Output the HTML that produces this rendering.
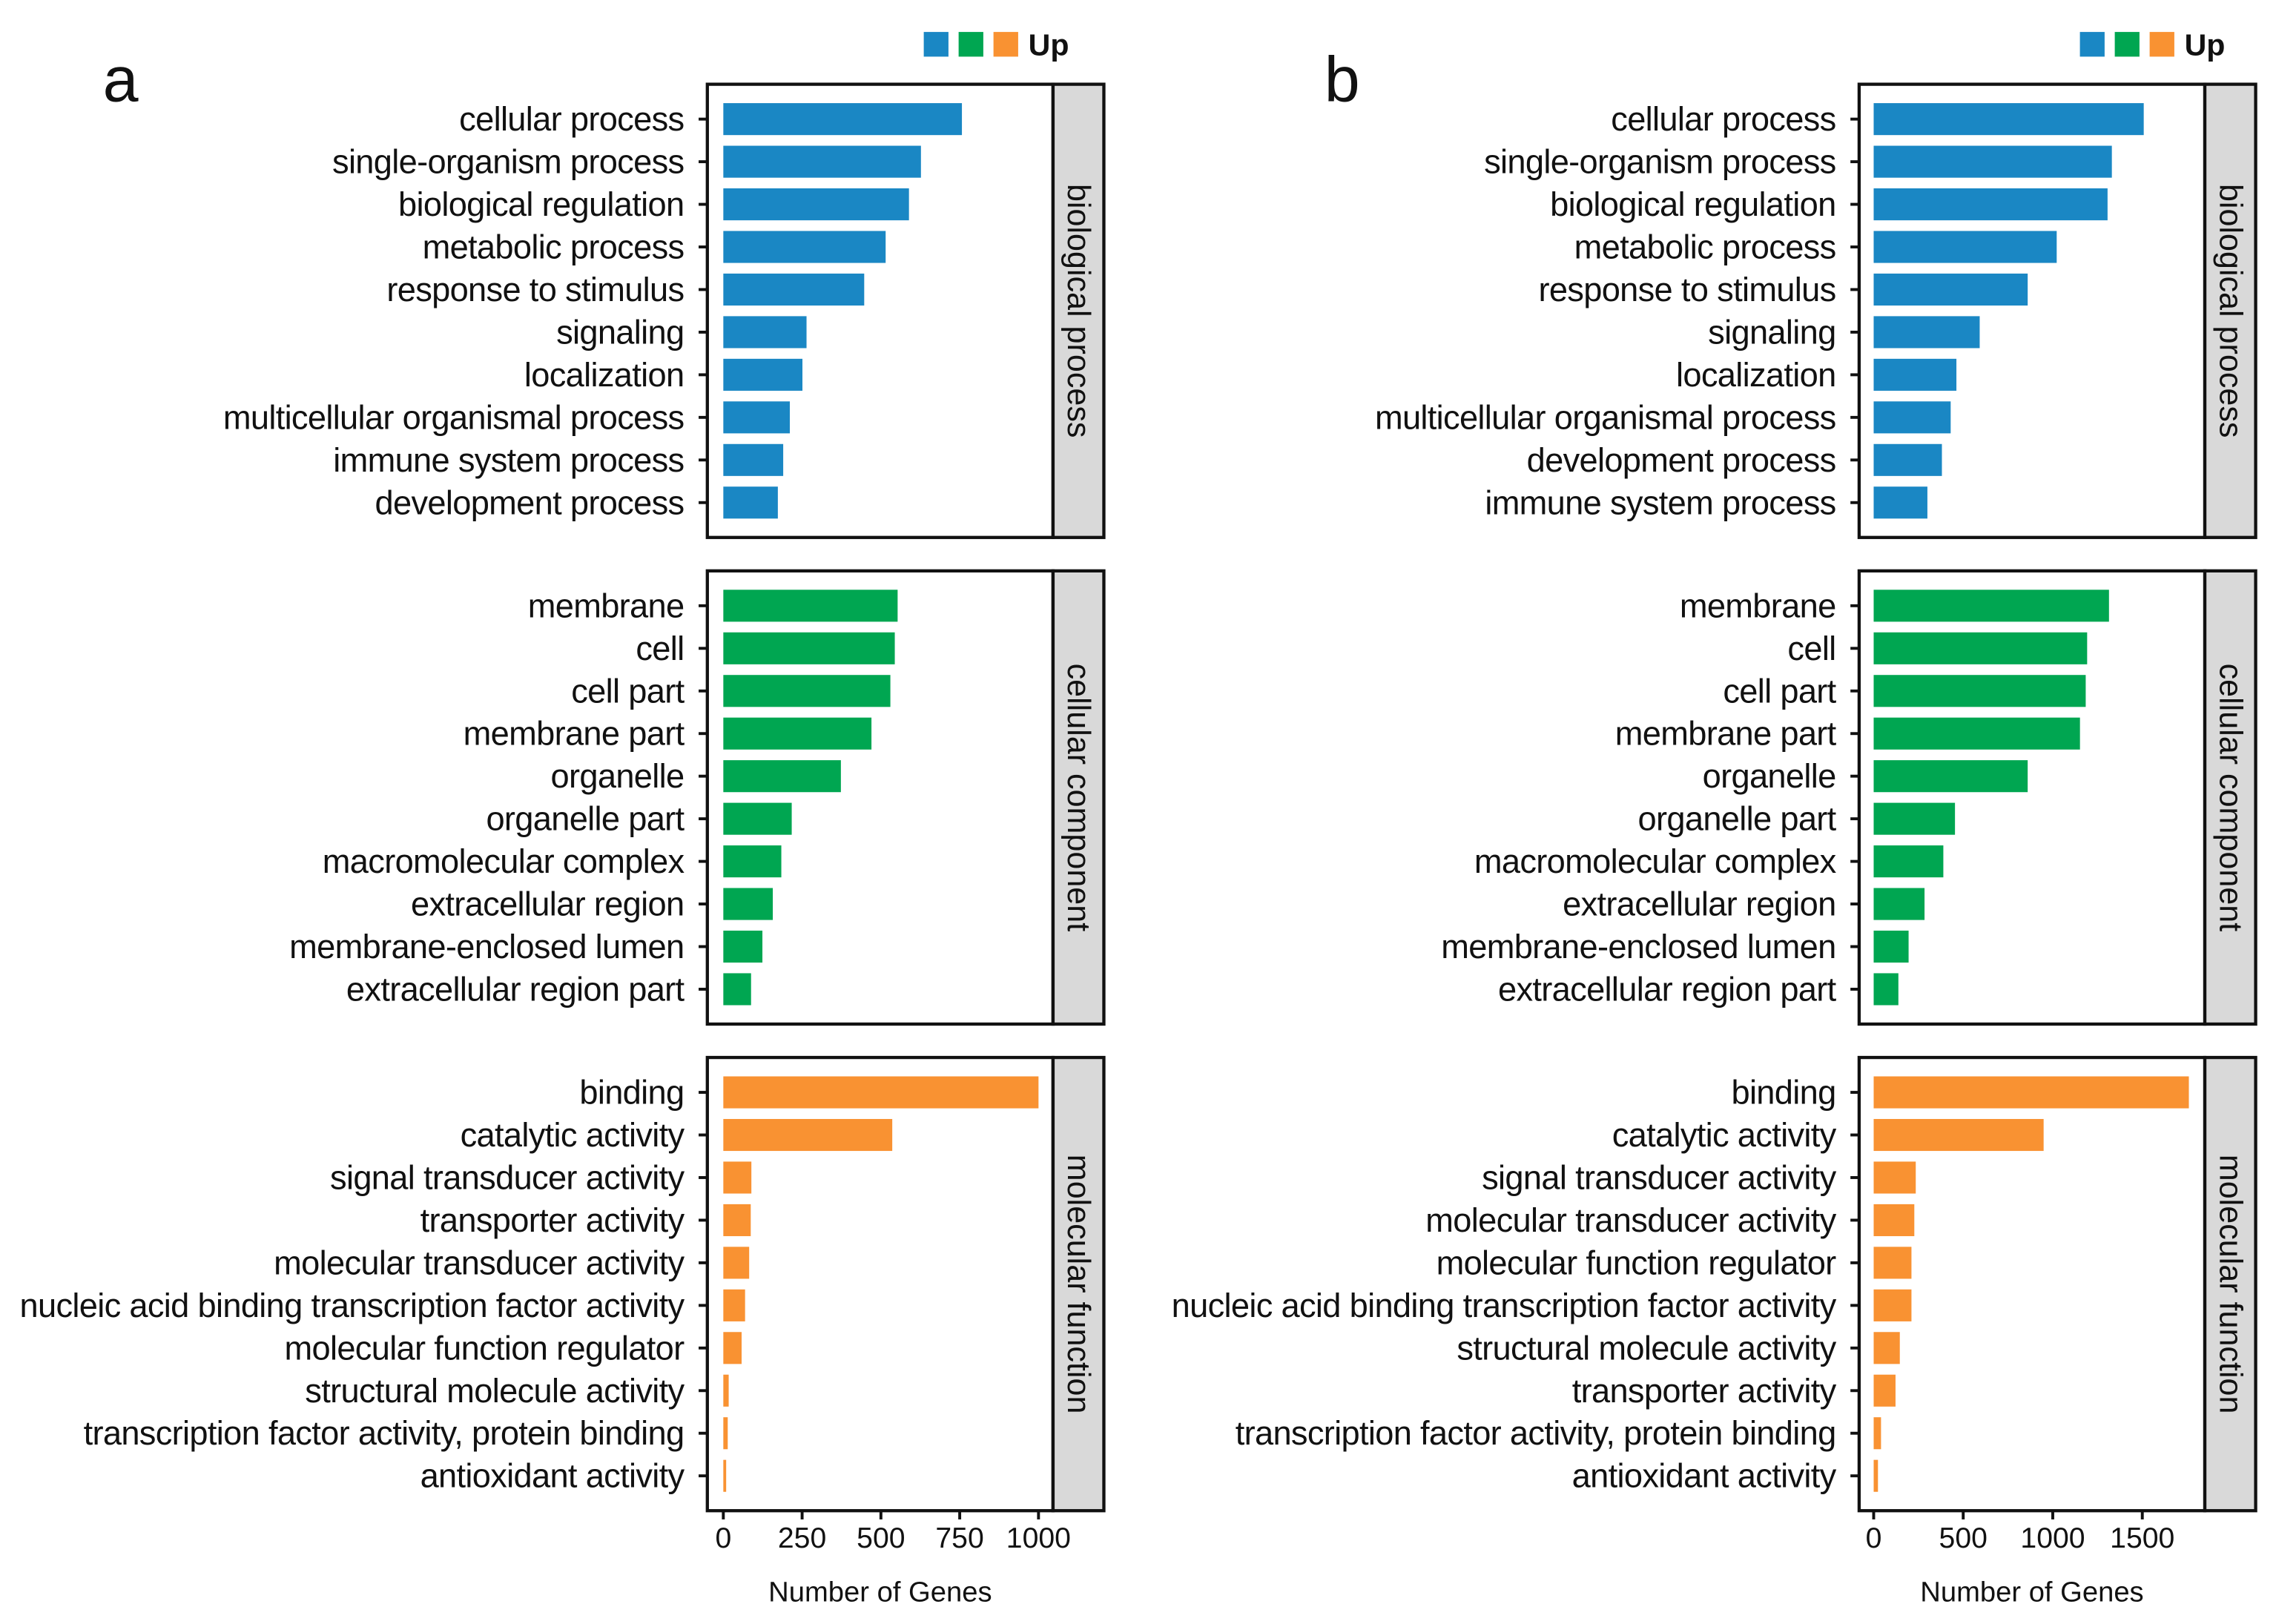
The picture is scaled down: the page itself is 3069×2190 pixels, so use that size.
<!DOCTYPE html>
<html><head><meta charset="utf-8">
<style>
html,body{margin:0;padding:0;background:#fff;}
svg{display:block;}
text{font-family:"Liberation Sans",Arial,sans-serif;fill:#111;}
</style></head>
<body>
<svg id="chart" width="3069" height="2190" viewBox="0 0 1567 1118" preserveAspectRatio="none" xmlns="http://www.w3.org/2000/svg"></svg>
<script>
// ---- data ----
const catsA_BP = ["cellular process","single-organism process","biological regulation","metabolic process","response to stimulus","signaling","localization","multicellular organismal process","immune system process","development process"];
const valsA_BP = [757,627,589,515,447,264,251,211,190,173];
const catsA_CC = ["membrane","cell","cell part","membrane part","organelle","organelle part","macromolecular complex","extracellular region","membrane-enclosed lumen","extracellular region part"];
const valsA_CC = [553,544,530,470,373,217,184,157,124,88];
const catsA_MF = ["binding","catalytic activity","signal transducer activity","transporter activity","molecular transducer activity","nucleic acid binding transcription factor activity","molecular function regulator","structural molecule activity","transcription factor activity,  protein binding","antioxidant activity"];
const valsA_MF = [1000,536,89,87,82,69,58,17,14,9];

const catsB_BP = ["cellular process","single-organism process","biological regulation","metabolic process","response to stimulus","signaling","localization","multicellular organismal process","development process","immune system process"];
const valsB_BP = [1508,1330,1306,1022,860,592,462,430,381,300];
const catsB_CC = ["membrane","cell","cell part","membrane part","organelle","organelle part","macromolecular complex","extracellular region","membrane-enclosed lumen","extracellular region part"];
const valsB_CC = [1314,1192,1184,1152,860,454,389,284,195,138];
const catsB_MF = ["binding","catalytic activity","signal transducer activity","molecular transducer activity","molecular function regulator","nucleic acid binding transcription factor activity","structural molecule activity","transporter activity","transcription factor activity,  protein binding","antioxidant activity"];
const valsB_MF = [1760,949,235,227,211,211,146,122,41,24];

const ticksA = [0,250,500,750,1000];
const ticksB = [0,500,1000,1500];
const facetNames = ["biological process","cellular component","molecular function"];
const colors = ["#1a87c4","#00a651","#f99232"];

// ---- drawing ----
const svg = document.getElementById('chart');
const NS = "http://www.w3.org/2000/svg";
function mk(tag, attrs, parent){
  const e = document.createElementNS(NS, tag);
  for (const k in attrs) e.setAttribute(k, attrs[k]);
  (parent||svg).appendChild(e);
  return e;
}
const facetTop = [58,393,728];
const facetH = 312;

function drawPanel(p){
  const g = mk('g',{});
  
  
  const xs = v => p.x0 + (v - 0) * p.k;
  const sets = [[p.cats[0],p.vals[0]],[p.cats[1],p.vals[1]],[p.cats[2],p.vals[2]]];
  sets.forEach((s, fi) => {
    const top = facetTop[fi];
    const fg = mk('g',{}, g);
    
    
    const frame = mk('rect',{x:p.left,y:top,width:p.right-p.left,height:facetH,fill:'#fff',stroke:'#111','stroke-width':2.2}, fg);
    
    
    const strip = mk('rect',{x:p.right,y:top,width:p.stripW,height:facetH,fill:'#d9d9d9',stroke:'#111','stroke-width':2.2}, fg);
    
    
    const cx = p.right + p.stripW/2, cy = top + facetH/2;
    const st = mk('text',{x:cx,y:cy,'font-size':22,'text-anchor':'middle','dominant-baseline':'central',transform:`rotate(90 ${cx} ${cy})`}, fg);
    st.textContent = facetNames[fi];
    
    
    const step = (facetH - 48) / 9;
    s[0].forEach((c, i) => {
      const y = top + 24 + i*step;
      const bar = mk('rect',{x:xs(0),y:y-11,width:Math.max(xs(s[1][i])-xs(0),1.5),height:22,fill:colors[fi]}, fg);
      
      
      mk('line',{x1:p.left-6,x2:p.left,y1:y,y2:y,stroke:'#111','stroke-width':2}, fg);
      const t = mk('text',{x:p.left-16,y:y,'font-size':23.1,'text-anchor':'end','dominant-baseline':'central','letter-spacing':'-0.35'}, fg);
      t.textContent = c;
      
      
    });
  });
  const bottom = facetTop[2] + facetH;
  p.ticks.forEach(tv => {
    mk('line',{x1:xs(tv),x2:xs(tv),y1:bottom,y2:bottom+6,stroke:'#111','stroke-width':2}, g);
    const t = mk('text',{x:xs(tv),y:bottom+19,'font-size':20,'text-anchor':'middle','dominant-baseline':'central'}, g);
    t.textContent = tv;
    
    
  });
  const at = mk('text',{x:(p.left+p.right)/2,y:1096,'font-size':19.5,'text-anchor':'middle','dominant-baseline':'central'}, g);
  at.textContent = 'Number  of Genes';
  
  
  const pl = mk('text',{x:p.letterX,y:55,'font-size':44,'text-anchor':'middle','dominant-baseline':'central'}, g);
  pl.textContent = p.letter;
  
  
  const lg = mk('g',{}, g);
  
  
  colors.forEach((c, i) => {
    const r = mk('rect',{x:p.legX + i*24,y:22,width:17,height:17,fill:c}, lg);
    
    
  });
  const up = mk('text',{x:p.legX + 72,y:31,'font-size':21,'font-weight':'bold','dominant-baseline':'central'}, lg);
  up.textContent = 'Up';
  
  
}

drawPanel({name:'panel-a', letter:'a', letterX:83, left:487, right:725, stripW:35, x0:498, k:0.217,
  cats:[catsA_BP,catsA_CC,catsA_MF], vals:[valsA_BP,valsA_CC,valsA_MF], ticks:ticksA, legX:636});
drawPanel({name:'panel-b', letter:'b', letterX:924, left:1280, right:1518, stripW:35, x0:1290, k:0.1233,
  cats:[catsB_BP,catsB_CC,catsB_MF], vals:[valsB_BP,valsB_CC,valsB_MF], ticks:ticksB, legX:1432});
</script>
</body></html>
